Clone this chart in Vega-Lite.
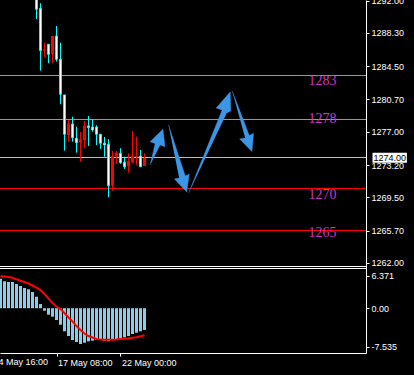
{
  "$schema": "https://vega.github.io/schema/vega-lite/v6.json",
  "autosize": {"type": "none"},
  "padding": {"left": 0, "top": 0, "right": 48, "bottom": 22},
  "width": 366,
  "height": 353,
  "background": "black",
  "config": {
    "view": {"stroke": null},
    "scale": {"continuousPadding": 0},
    "axis": {"grid": false, "labelFont": "Liberation Sans", "labelFontSize": 9, "labelColor": "white", "tickColor": "white", "domainColor": "white", "tickSize": 3, "labelPadding": 2, "domainWidth": 1, "tickWidth": 1},
    "text": {"font": "Liberation Sans"}
  },
  "datasets": {
    "candles": [
      {"i": 0, "o": 1293.0, "h": 1293.5, "l": 1289.9, "c": 1291.01, "d": "down"},
      {"i": 1, "o": 1291.12, "h": 1291.7, "l": 1283.99, "c": 1286.28, "d": "down"},
      {"i": 2, "o": 1286.28, "h": 1287.19, "l": 1285.52, "c": 1286.44, "d": "up"},
      {"i": 3, "o": 1287.01, "h": 1287.01, "l": 1284.84, "c": 1285.86, "d": "down"},
      {"i": 4, "o": 1285.86, "h": 1287.96, "l": 1284.9, "c": 1287.96, "d": "up"},
      {"i": 5, "o": 1287.96, "h": 1289.1, "l": 1285.02, "c": 1285.29, "d": "down"},
      {"i": 6, "o": 1285.29, "h": 1287.19, "l": 1280.15, "c": 1281.29, "d": "down"},
      {"i": 7, "o": 1281.21, "h": 1281.21, "l": 1274.84, "c": 1276.72, "d": "down"},
      {"i": 8, "o": 1276.64, "h": 1278.35, "l": 1275.87, "c": 1277.97, "d": "up"},
      {"i": 9, "o": 1277.89, "h": 1278.73, "l": 1275.87, "c": 1276.33, "d": "down"},
      {"i": 10, "o": 1276.26, "h": 1277.59, "l": 1274.61, "c": 1275.76, "d": "down"},
      {"i": 11, "o": 1275.76, "h": 1276.98, "l": 1273.58, "c": 1276.14, "d": "up"},
      {"i": 12, "o": 1276.06, "h": 1278.24, "l": 1275.12, "c": 1277.67, "d": "up"},
      {"i": 13, "o": 1277.67, "h": 1278.81, "l": 1275.38, "c": 1277.47, "d": "down"},
      {"i": 14, "o": 1277.55, "h": 1278.43, "l": 1277.01, "c": 1277.21, "d": "down"},
      {"i": 15, "o": 1277.55, "h": 1277.75, "l": 1275.49, "c": 1276.72, "d": "down"},
      {"i": 16, "o": 1276.72, "h": 1276.72, "l": 1275.04, "c": 1275.69, "d": "down"},
      {"i": 17, "o": 1275.69, "h": 1276.41, "l": 1274.15, "c": 1275.49, "d": "down"},
      {"i": 18, "o": 1275.57, "h": 1276.18, "l": 1269.51, "c": 1270.84, "d": "down"},
      {"i": 19, "o": 1270.84, "h": 1274.81, "l": 1270.27, "c": 1274.23, "d": "up"},
      {"i": 20, "o": 1274.15, "h": 1274.81, "l": 1273.32, "c": 1274.61, "d": "up"},
      {"i": 21, "o": 1274.54, "h": 1275.12, "l": 1273.32, "c": 1273.47, "d": "down"},
      {"i": 22, "o": 1273.51, "h": 1274.15, "l": 1272.75, "c": 1273.01, "d": "down"},
      {"i": 23, "o": 1273.09, "h": 1274.54, "l": 1272.32, "c": 1273.66, "d": "up"},
      {"i": 24, "o": 1273.51, "h": 1277.09, "l": 1273.4, "c": 1274.23, "d": "up"},
      {"i": 25, "o": 1274.15, "h": 1276.44, "l": 1273.21, "c": 1274.23, "d": "up"},
      {"i": 26, "o": 1274.23, "h": 1274.92, "l": 1273.01, "c": 1273.01, "d": "down"},
      {"i": 27, "o": 1273.09, "h": 1274.54, "l": 1273.09, "c": 1274.0, "d": "up"}
    ],
    "levels": [
      {"p": 1283.436, "k": "support"},
      {"p": 1278.404, "k": "support"},
      {"p": 1274.058, "k": "bid"},
      {"p": 1270.513, "k": "resist"},
      {"p": 1265.71, "k": "resist"}
    ],
    "labels": [
      {"i": 68, "p": 1282.81, "t": "1283"},
      {"i": 68, "p": 1278.47, "t": "1278"},
      {"i": 68, "p": 1269.78, "t": "1270"},
      {"i": 68, "p": 1265.43, "t": "1265"}
    ],
    "arrows": [
      {"a": "A", "o": 0, "i": 28.425, "p": 1273.21},
      {"a": "A", "o": 1, "i": 29.675, "p": 1275.66},
      {"a": "A", "o": 2, "i": 28.425, "p": 1275.87},
      {"a": "A", "o": 3, "i": 31.6, "p": 1277.29},
      {"a": "A", "o": 4, "i": 32.1, "p": 1275.3},
      {"a": "A", "o": 5, "i": 30.925, "p": 1275.49},
      {"a": "B", "o": 0, "i": 33.0, "p": 1277.78},
      {"a": "B", "o": 1, "i": 37.175, "p": 1271.95},
      {"a": "B", "o": 2, "i": 38.175, "p": 1272.14},
      {"a": "B", "o": 3, "i": 37.55, "p": 1270.12},
      {"a": "B", "o": 4, "i": 34.5, "p": 1271.61},
      {"a": "B", "o": 5, "i": 35.675, "p": 1271.72},
      {"a": "C", "o": 0, "i": 38.05, "p": 1270.0},
      {"a": "C", "o": 1, "i": 46.425, "p": 1279.5},
      {"a": "C", "o": 2, "i": 44.925, "p": 1279.72},
      {"a": "C", "o": 3, "i": 48.425, "p": 1281.55},
      {"a": "C", "o": 4, "i": 48.55, "p": 1279.38},
      {"a": "C", "o": 5, "i": 47.55, "p": 1279.15},
      {"a": "D", "o": 0, "i": 48.925, "p": 1281.67},
      {"a": "D", "o": 1, "i": 53.175, "p": 1276.58},
      {"a": "D", "o": 2, "i": 54.25, "p": 1276.81},
      {"a": "D", "o": 3, "i": 53.85, "p": 1274.75},
      {"a": "D", "o": 4, "i": 50.8, "p": 1276.18},
      {"a": "D", "o": 5, "i": 52.175, "p": 1276.29}
    ],
    "price": [{"p": 1274.0, "t": "1274.00"}],
    "macd": [
      {"i": -9, "m": 5.78, "s": 6.31}, {"i": -8, "m": 5.27, "s": 6.21}, {"i": -7, "m": 5.13, "s": 6.11},
      {"i": -6, "m": 5.13, "s": 5.95}, {"i": -5, "m": 4.74, "s": 5.66}, {"i": -4, "m": 4.35, "s": 5.39},
      {"i": -3, "m": 3.96, "s": 5.13}, {"i": -2, "m": 3.7, "s": 4.84}, {"i": -1, "m": 3.17, "s": 4.45},
      {"i": 0, "m": 2.25, "s": 4.05}, {"i": 1, "m": 0.82, "s": 3.56}, {"i": 2, "m": -0.49, "s": 2.78},
      {"i": 3, "m": -1.27, "s": 1.9}, {"i": 4, "m": -1.66, "s": 1.02}, {"i": 5, "m": -2.31, "s": 0.33},
      {"i": 6, "m": -3.23, "s": -0.16}, {"i": 7, "m": -4.52, "s": -0.94}, {"i": 8, "m": -5.44, "s": -1.82},
      {"i": 9, "m": -6.23, "s": -2.57}, {"i": 10, "m": -6.62, "s": -3.49}, {"i": 11, "m": -7.01, "s": -4.27},
      {"i": 12, "m": -6.76, "s": -4.95}, {"i": 13, "m": -6.48, "s": -5.44}, {"i": 14, "m": -6.36, "s": -5.74},
      {"i": 15, "m": -6.23, "s": -6.03}, {"i": 16, "m": -6.23, "s": -6.15}, {"i": 17, "m": -6.36, "s": -6.17},
      {"i": 18, "m": -6.48, "s": -6.17}, {"i": 19, "m": -6.23, "s": -6.17}, {"i": 20, "m": -6.09, "s": -6.13},
      {"i": 21, "m": -5.97, "s": -6.03}, {"i": 22, "m": -5.7, "s": -5.97}, {"i": 23, "m": -5.44, "s": -5.9},
      {"i": 24, "m": -5.05, "s": -5.78}, {"i": 25, "m": -4.8, "s": -5.7}, {"i": 26, "m": -4.52, "s": -5.5},
      {"i": 27, "m": -4.27, "s": -5.31}
    ],
    "timelabels": [{"i": -11, "t": "14 May 16:00"}]
  },
  "resolve": {"scale": {"y": "independent", "color": "independent"}, "axis": {"y": "independent"}},
  "layer": [
    {
      "data": {"name": "levels"},
      "mark": {"type": "rule", "strokeWidth": 1},
      "encoding": {
        "y": {"field": "p", "type": "quantitative", "scale": {"domain": [1251.7, 1292.07], "nice": false, "zero": false, "padding": 0},
          "axis": {"orient": "right", "values": [1292, 1288.3, 1284.5, 1280.7, 1277, 1273.2, 1269.5, 1265.7, 1262], "format": ".2f", "title": null, "labelOverlap": false, "labelColor": "white", "tickColor": "white", "domainColor": "white", "domain": true, "ticks": true, "labels": true}},
        "color": {"field": "k", "type": "nominal", "scale": {"domain": ["support", "bid", "resist"], "range": ["#33E033", "#C0C0C0", "#FF0000"]}, "legend": null}
      }
    },
    {
      "data": {"name": "candles"},
      "mark": {"type": "rule", "strokeWidth": 1, "clip": true},
      "encoding": {
        "x": {"field": "i", "type": "quantitative", "scale": {"domain": [-9.125, 82.375], "nice": false, "zero": false, "padding": 0},
          "axis": {"orient": "bottom", "values": [5, 21], "labelExpr": "datum.value == 5 ? '17 May 08:00' : '22 May 00:00'", "labelAlign": "left", "labelFlush": false, "labelOverlap": false, "labelOffset": 1, "title": null, "labelColor": "white", "tickColor": "white", "domainColor": "white", "domain": true, "ticks": true, "labels": true}},
        "y": {"field": "l", "type": "quantitative", "scale": {"domain": [1251.7, 1292.07], "nice": false, "zero": false, "padding": 0}, "axis": null},
        "y2": {"field": "h"},
        "color": {"field": "d", "type": "nominal", "scale": {"domain": ["down", "up"], "range": ["#00FFFF", "#FF0000"]}, "legend": null}
      }
    },
    {
      "data": {"name": "candles"},
      "transform": [{"filter": "datum.d == 'down'"}],
      "mark": {"type": "bar", "width": 2, "fill": "#FFFFFF", "stroke": "#00FFFF", "strokeWidth": 1, "clip": true},
      "encoding": {
        "x": {"field": "i", "type": "quantitative", "scale": {"domain": [-9.125, 82.375], "nice": false, "zero": false, "padding": 0},
          "axis": {"orient": "bottom", "values": [5, 21], "labelExpr": "datum.value == 5 ? '17 May 08:00' : '22 May 00:00'", "labelAlign": "left", "labelFlush": false, "labelOverlap": false, "labelOffset": 1, "title": null, "labelColor": "white", "tickColor": "white", "domainColor": "white", "domain": true, "ticks": true, "labels": true}},
        "y": {"field": "o", "type": "quantitative", "scale": {"domain": [1251.7, 1292.07], "nice": false, "zero": false, "padding": 0}, "axis": null},
        "y2": {"field": "c"}
      }
    },
    {
      "data": {"name": "candles"},
      "transform": [{"filter": "datum.d == 'up'"}],
      "mark": {"type": "bar", "width": 3, "fill": "#FF0000", "clip": true},
      "encoding": {
        "x": {"field": "i", "type": "quantitative", "scale": {"domain": [-9.125, 82.375], "nice": false, "zero": false, "padding": 0},
          "axis": {"orient": "bottom", "values": [5, 21], "labelExpr": "datum.value == 5 ? '17 May 08:00' : '22 May 00:00'", "labelAlign": "left", "labelFlush": false, "labelOverlap": false, "labelOffset": 1, "title": null, "labelColor": "white", "tickColor": "white", "domainColor": "white", "domain": true, "ticks": true, "labels": true}},
        "y": {"field": "o", "type": "quantitative", "scale": {"domain": [1251.7, 1292.07], "nice": false, "zero": false, "padding": 0}, "axis": null},
        "y2": {"field": "c"}
      }
    },
    {
      "data": {"name": "arrows"},
      "mark": {"type": "line", "fill": "#3C96E6", "stroke": "#3C96E6", "strokeWidth": 0.5},
      "encoding": {
        "x": {"field": "i", "type": "quantitative", "scale": {"domain": [-9.125, 82.375], "nice": false, "zero": false, "padding": 0},
          "axis": {"orient": "bottom", "values": [5, 21], "labelExpr": "datum.value == 5 ? '17 May 08:00' : '22 May 00:00'", "labelAlign": "left", "labelFlush": false, "labelOverlap": false, "labelOffset": 1, "title": null, "labelColor": "white", "tickColor": "white", "domainColor": "white", "domain": true, "ticks": true, "labels": true}},
        "y": {"field": "p", "type": "quantitative", "scale": {"domain": [1251.7, 1292.07], "nice": false, "zero": false, "padding": 0}, "axis": null},
        "order": {"field": "o", "type": "quantitative"},
        "detail": {"field": "a", "type": "nominal"}
      }
    },
    {
      "data": {"name": "labels"},
      "mark": {"type": "text", "font": "Liberation Serif", "fontSize": 14, "color": "#C837C8", "align": "left", "baseline": "middle"},
      "encoding": {
        "x": {"field": "i", "type": "quantitative", "scale": {"domain": [-9.125, 82.375], "nice": false, "zero": false, "padding": 0},
          "axis": {"orient": "bottom", "values": [5, 21], "labelExpr": "datum.value == 5 ? '17 May 08:00' : '22 May 00:00'", "labelAlign": "left", "labelFlush": false, "labelOverlap": false, "labelOffset": 1, "title": null, "labelColor": "white", "tickColor": "white", "domainColor": "white", "domain": true, "ticks": true, "labels": true}},
        "y": {"field": "p", "type": "quantitative", "scale": {"domain": [1251.7, 1292.07], "nice": false, "zero": false, "padding": 0}, "axis": null},
        "text": {"field": "t"}
      }
    },
    {
      "data": {"values": [{}]},
      "mark": {"type": "rule", "color": "white", "strokeWidth": 1},
      "encoding": {
        "y": {"datum": 1261.592, "type": "quantitative", "scale": {"domain": [1251.7, 1292.07], "nice": false, "zero": false, "padding": 0}, "axis": null}
      }
    },
    {
      "data": {"name": "price"},
      "mark": {"type": "rect", "fill": "white"},
      "encoding": {
        "x": {"datum": 84.0, "type": "quantitative", "scale": {"domain": [-9.125, 82.375], "nice": false, "zero": false, "padding": 0},
          "axis": {"orient": "bottom", "values": [5, 21], "labelExpr": "datum.value == 5 ? '17 May 08:00' : '22 May 00:00'", "labelAlign": "left", "labelFlush": false, "labelOverlap": false, "labelOffset": 1, "title": null, "labelColor": "white", "tickColor": "white", "domainColor": "white", "domain": true, "ticks": true, "labels": true}},
        "x2": {"datum": 92.6},
        "y": {"datum": 1274.61, "type": "quantitative", "scale": {"domain": [1251.7, 1292.07], "nice": false, "zero": false, "padding": 0}, "axis": null},
        "y2": {"datum": 1273.47}
      }
    },
    {
      "data": {"name": "price"},
      "mark": {"type": "text", "fontSize": 9, "color": "black", "align": "left", "baseline": "middle", "dx": 1},
      "encoding": {
        "x": {"datum": 84.0, "type": "quantitative", "scale": {"domain": [-9.125, 82.375], "nice": false, "zero": false, "padding": 0},
          "axis": {"orient": "bottom", "values": [5, 21], "labelExpr": "datum.value == 5 ? '17 May 08:00' : '22 May 00:00'", "labelAlign": "left", "labelFlush": false, "labelOverlap": false, "labelOffset": 1, "title": null, "labelColor": "white", "tickColor": "white", "domainColor": "white", "domain": true, "ticks": true, "labels": true}},
        "y": {"field": "p", "type": "quantitative", "scale": {"domain": [1251.7, 1292.07], "nice": false, "zero": false, "padding": 0}, "axis": null},
        "text": {"field": "t"}
      }
    },
    {
      "data": {"name": "macd"},
      "mark": {"type": "bar", "width": 3, "color": "#87CEEB", "clip": true},
      "encoding": {
        "x": {"field": "i", "type": "quantitative", "scale": {"domain": [-9.125, 82.375], "nice": false, "zero": false, "padding": 0},
          "axis": {"orient": "bottom", "values": [5, 21], "labelExpr": "datum.value == 5 ? '17 May 08:00' : '22 May 00:00'", "labelAlign": "left", "labelFlush": false, "labelOverlap": false, "labelOffset": 1, "title": null, "labelColor": "white", "tickColor": "white", "domainColor": "white", "domain": true, "ticks": true, "labels": true}},
        "y": {"field": "m", "type": "quantitative", "scale": {"domain": [-8.77, 60.36], "nice": false, "zero": false, "padding": 0},
          "axis": {"orient": "right", "values": [6.371, 0, -7.535], "labelExpr": "datum.value == 0 ? '0.00' : (datum.value > 0 ? '6.371' : '-7.535')", "domain": false, "labelOverlap": false, "title": null, "labelColor": "white", "tickColor": "white", "ticks": true, "labels": true}},
        "y2": {"datum": 0}
      }
    },
    {
      "data": {"name": "macd"},
      "mark": {"type": "line", "color": "#FF0000", "strokeWidth": 2, "clip": true},
      "encoding": {
        "x": {"field": "i", "type": "quantitative", "scale": {"domain": [-9.125, 82.375], "nice": false, "zero": false, "padding": 0},
          "axis": {"orient": "bottom", "values": [5, 21], "labelExpr": "datum.value == 5 ? '17 May 08:00' : '22 May 00:00'", "labelAlign": "left", "labelFlush": false, "labelOverlap": false, "labelOffset": 1, "title": null, "labelColor": "white", "tickColor": "white", "domainColor": "white", "domain": true, "ticks": true, "labels": true}},
        "y": {"field": "s", "type": "quantitative", "scale": {"domain": [-8.77, 60.36], "nice": false, "zero": false, "padding": 0}, "axis": null}
      }
    },
    {
      "data": {"values": [{}]},
      "mark": {"type": "rule", "color": "white", "strokeWidth": 1},
      "encoding": {
        "y": {"datum": 7.778, "type": "quantitative", "scale": {"domain": [-8.77, 60.36], "nice": false, "zero": false, "padding": 0}, "axis": null}
      }
    },
    {
      "data": {"name": "timelabels"},
      "mark": {"type": "text", "fontSize": 9, "color": "white", "align": "left", "baseline": "top", "dy": 5, "dx": 1},
      "encoding": {
        "x": {"field": "i", "type": "quantitative", "scale": {"domain": [-9.125, 82.375], "nice": false, "zero": false, "padding": 0},
          "axis": {"orient": "bottom", "values": [5, 21], "labelExpr": "datum.value == 5 ? '17 May 08:00' : '22 May 00:00'", "labelAlign": "left", "labelFlush": false, "labelOverlap": false, "labelOffset": 1, "title": null, "labelColor": "white", "tickColor": "white", "domainColor": "white", "domain": true, "ticks": true, "labels": true}},
        "y": {"datum": -8.77, "type": "quantitative", "scale": {"domain": [-8.77, 60.36], "nice": false, "zero": false, "padding": 0}, "axis": null},
        "text": {"field": "t"}
      }
    }
  ]
}
